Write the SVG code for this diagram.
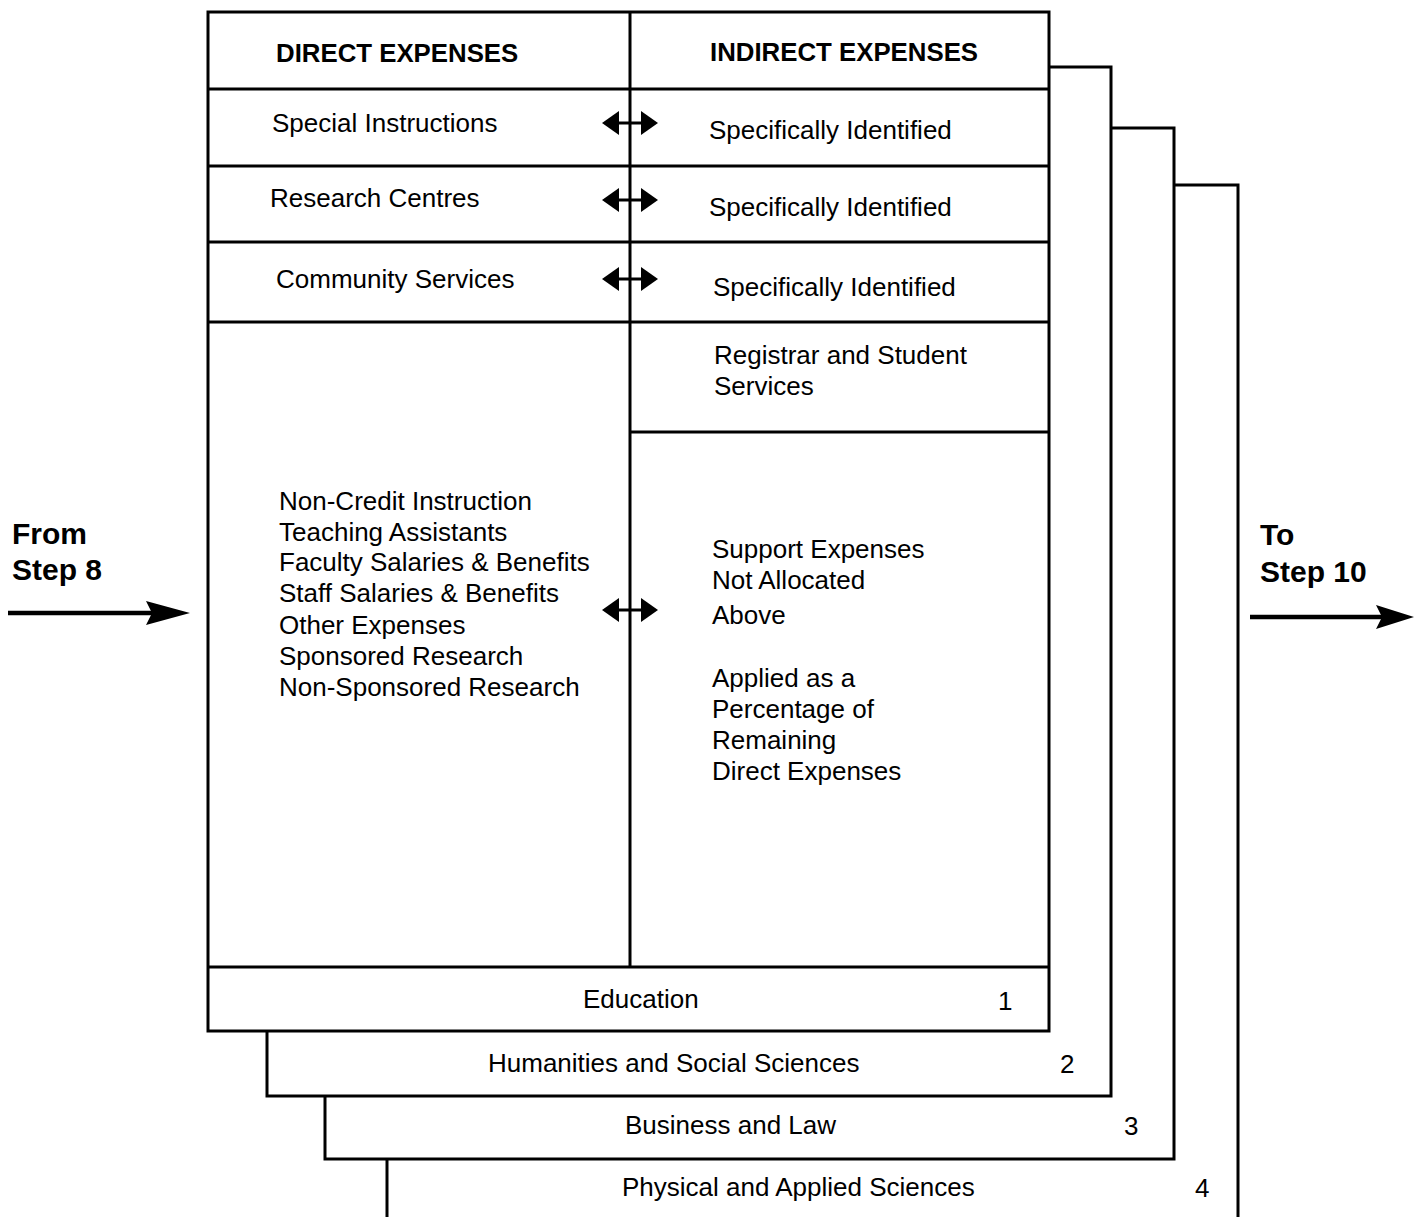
<svg xmlns="http://www.w3.org/2000/svg" xmlns:xlink="http://www.w3.org/1999/xlink" width="1414" height="1217" viewBox="0 0 1414 1217">
<style>
.ln{fill:none;stroke:#000;stroke-width:3;stroke-linejoin:miter}
.t{font-family:"Liberation Sans",Arial,sans-serif;font-size:26px;fill:#000}
.h{font-family:"Liberation Sans",Arial,sans-serif;font-size:25.8px;font-weight:bold;fill:#000}
.s{font-family:"Liberation Sans",Arial,sans-serif;font-size:30px;font-weight:bold;fill:#000}
.ar{fill:#000}
</style>
<defs>
<g id="dbl">
<line x1="-12" y1="0" x2="12" y2="0" stroke="#000" stroke-width="3"/>
<polygon points="-28,0 -11,-12 -11,12" fill="#000"/>
<polygon points="28,0 11,-12 11,12" fill="#000"/>
</g>
</defs>
<rect width="1414" height="1217" fill="#fff"/>

<g id="page4">
<polyline class="ln" points="1174,185 1238,185 1238,1217"/>
<line class="ln" x1="387" y1="1159" x2="387" y2="1217"/>
<text class="t" x="622" y="1196">Physical and Applied Sciences</text>
<text class="t" x="1195" y="1197">4</text>
</g>
<g id="page3">
<polyline class="ln" points="1111,128 1174,128 1174,1159 325,1159 325,1096"/>
<text class="t" x="625" y="1134">Business and Law</text>
<text class="t" x="1124" y="1135">3</text>
</g>
<g id="page2">
<polyline class="ln" points="1049,67 1111,67 1111,1096 267,1096 267,1031"/>
<text class="t" x="488" y="1072">Humanities and Social Sciences</text>
<text class="t" x="1060" y="1073">2</text>
</g>

<g id="page1">
<rect class="ln" x="208" y="12" width="841" height="1019"/>
<line class="ln" x1="630" y1="12" x2="630" y2="967"/>
<line class="ln" x1="208" y1="89" x2="1049" y2="89"/>
<line class="ln" x1="208" y1="166" x2="1049" y2="166"/>
<line class="ln" x1="208" y1="242" x2="1049" y2="242"/>
<line class="ln" x1="208" y1="322" x2="1049" y2="322"/>
<line class="ln" x1="630" y1="432" x2="1049" y2="432"/>
<line class="ln" x1="208" y1="967" x2="1049" y2="967"/>
</g>

<g id="direct-header"><text class="h" x="276" y="62">DIRECT EXPENSES</text></g>
<g id="indirect-header"><text class="h" x="710" y="61">INDIRECT EXPENSES</text></g>
<g id="special-instructions"><text class="t" x="272" y="132">Special Instructions</text></g>
<g id="indirect-1"><text class="t" x="709" y="139">Specifically Identified</text></g>
<g id="research-centres"><text class="t" x="270" y="207">Research Centres</text></g>
<g id="indirect-2"><text class="t" x="709" y="216">Specifically Identified</text></g>
<g id="community-services"><text class="t" x="276" y="288">Community Services</text></g>
<g id="indirect-3"><text class="t" x="713" y="296">Specifically Identified</text></g>
<g id="registrar"><text class="t" x="714" y="364">Registrar and Student</text><text class="t" x="714" y="395">Services</text></g>
<g id="direct-main">
<text class="t" x="279" y="510">Non-Credit Instruction</text>
<text class="t" x="279" y="541">Teaching Assistants</text>
<text class="t" x="279" y="571">Faculty Salaries &amp; Benefits</text>
<text class="t" x="279" y="602">Staff Salaries &amp; Benefits</text>
<text class="t" x="279" y="634">Other Expenses</text>
<text class="t" x="279" y="665">Sponsored Research</text>
<text class="t" x="279" y="696">Non-Sponsored Research</text>
</g>
<g id="support">
<text class="t" x="712" y="558">Support Expenses</text>
<text class="t" x="712" y="589">Not Allocated</text>
<text class="t" x="712" y="624">Above</text>
<text class="t" x="712" y="687">Applied as a</text>
<text class="t" x="712" y="718">Percentage of</text>
<text class="t" x="712" y="749">Remaining</text>
<text class="t" x="712" y="780">Direct Expenses</text>
</g>
<g id="education">
<text class="t" x="583" y="1008">Education</text>
<text class="t" x="998" y="1010">1</text>
</g>
<g id="from-step">
<text class="s" x="12" y="544">From</text>
<text class="s" x="12" y="580">Step 8</text>
</g>
<g id="to-step">
<text class="s" x="1260" y="545">To</text>
<text class="s" x="1260" y="582">Step 10</text>
</g>

<g id="connectors">
<use xlink:href="#dbl" x="630" y="123"/>
<use xlink:href="#dbl" x="630" y="200"/>
<use xlink:href="#dbl" x="630" y="279"/>
<use xlink:href="#dbl" x="630" y="610"/>
<line x1="8" y1="613" x2="152" y2="613" stroke="#000" stroke-width="4.5"/>
<polygon class="ar" points="190,613 146,601 152,613 146,625"/>
<line x1="1250" y1="617" x2="1382" y2="617" stroke="#000" stroke-width="4.5"/>
<polygon class="ar" points="1414,617 1376,605 1382,617 1376,629"/>
</g>
</svg>
